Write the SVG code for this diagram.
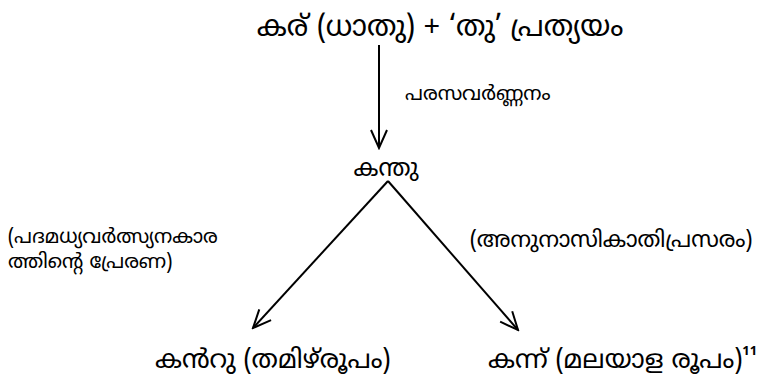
<svg xmlns="http://www.w3.org/2000/svg" width="770" height="377" viewBox="0 0 770 377">
<defs>
<marker id="ah" markerWidth="22" markerHeight="22" refX="20" refY="11" orient="auto" markerUnits="userSpaceOnUse">
<path d="M2,3 L20,11 L2,19" fill="none" stroke="#000" stroke-width="2"/>
</marker>
</defs>
<style>
text{font-family:"Noto Sans Malayalam","Noto Sans","DejaVu Sans",sans-serif;fill:#000}
.big{font-size:26px}
.top{font-size:29px}
.mid{font-size:24px}
.lab{font-size:20px}
.rl{font-size:22.5px}
.sm{font-size:20px}
.edge{stroke:#000;stroke-width:2;fill:none;marker-end:url(#ah)}
</style>
<rect width="770" height="377" fill="#fff"/>
<g id="connectors">
<line class="edge" x1="379" y1="45" x2="379" y2="148"/>
<line class="edge" x1="388" y1="181" x2="253" y2="328"/>
<line class="edge" x1="388" y1="181" x2="518" y2="330"/>
</g>
<g id="root"><text class="top" x="440" y="36" text-anchor="middle">കര് (ധാതു) + ‘തു’ പ്രത്യയം</text></g>
<g id="label-top"><text class="sm" x="405" y="100">പരസവർണ്ണനം</text></g>
<g id="mid"><text class="mid" x="386" y="176" text-anchor="middle">കന്തു</text></g>
<g id="label-left"><text class="lab" x="8" y="243">(പദമധ്യവർത്സ്യനകാര</text><text class="lab" x="8" y="268">ത്തിന്റെ പ്രേരണ)</text></g>
<g id="label-right"><text class="rl" x="470" y="247">(അനുനാസികാതിപ്രസരം)</text></g>
<g id="left"><text class="big" x="155" y="368">കൻറു (തമിഴ്‌രൂപം)</text></g>
<g id="right"><text class="big" x="488" y="368">കന്ന് (മലയാള രൂപം)<tspan font-size="13" font-weight="bold" dy="-13">11</tspan></text></g>
</svg>
